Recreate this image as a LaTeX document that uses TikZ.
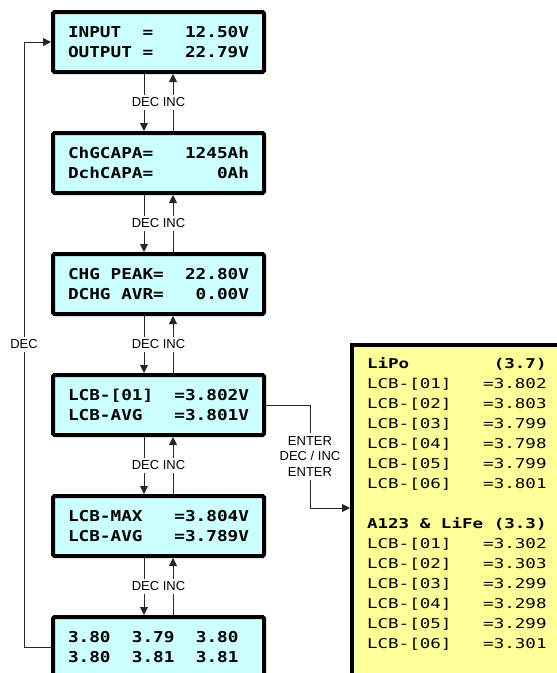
\documentclass[tikz,border=0pt]{standalone}
\usepackage{fontspec}
\usepackage{tikz}
\usetikzlibrary{arrows.meta}
\newfontfamily\lcdfont[FakeStretch=1.18]{DejaVu Sans Mono}
\newfontfamily\listfont[FakeStretch=1.3]{DejaVu Sans Mono}
\newfontfamily\keyfont{Liberation Sans}
\definecolor{lcdcyan}{RGB}{204,255,255}
\definecolor{lcdyellow}{RGB}{255,255,153}
\newcommand{\lcdrow}[2]{\makebox[181pt][l]{#1\hfill #2}}

\begin{document}
\begin{tikzpicture}[node distance={121pt},
        lcd/.style = {draw, line width=4pt, rounded corners=1.5pt, fill=lcdcyan, minimum width=211pt, minimum height=60pt, align=left, font=\lcdfont\bfseries\fontsize{15}{20}\selectfont},
        list/.style = {draw, line width=4pt, fill=lcdyellow, anchor=north west, inner xsep=15pt, inner ysep=13pt, font=\listfont\fontsize{13.5}{20}\selectfont},
        key/.style = {fill=white, inner xsep=1pt, inner ysep=3pt, font=\keyfont\fontsize{13}{15.5}\selectfont},
        wire/.style = {draw=black!85, line width=0.9pt, -{Triangle[length=8pt,width=8pt]}}]
            \useasboundingbox (0,0) rectangle (557pt,-673pt);

            \node[lcd] (inout) at (158.5pt,-42pt) {\lcdrow{INPUT~~=}{12.50V}\\\lcdrow{OUTPUT~=}{22.79V}};
            \node[lcd] (capa) [below of=inout] {\lcdrow{ChGCAPA=}{1245Ah}\\\lcdrow{DchCAPA=}{0Ah}};
            \node[lcd] (peak) [below of=capa] {\lcdrow{CHG PEAK=}{22.80V}\\\lcdrow{DCHG AVR=}{0.00V}};
            \node[lcd] (cell) [below of=peak] {\lcdrow{LCB-[01]}{=3.802V}\\\lcdrow{LCB-AVG}{=3.801V}};
            \node[lcd] (cmax) [below of=cell] {\lcdrow{LCB-MAX}{=3.804V}\\\lcdrow{LCB-AVG}{=3.789V}};
            \node[lcd] (grid) [below of=cmax] {\lcdrow{3.80~~3.79~~3.80}{}\\\lcdrow{3.80~~3.81~~3.81}{}};

            \node[list] (lipo) at (350pt,-343pt) {\parbox[c][350pt][t]{200pt}{%
                \textbf{LiPo~~~~~~~~(3.7)}\\
                LCB-[01]~~~=3.802\\
                LCB-[02]~~~=3.803\\
                LCB-[03]~~~=3.799\\
                LCB-[04]~~~=3.798\\
                LCB-[05]~~~=3.799\\
                LCB-[06]~~~=3.801\\[20pt]
                \textbf{A123 \& LiFe (3.3)}\\
                LCB-[01]~~~=3.302\\
                LCB-[02]~~~=3.303\\
                LCB-[03]~~~=3.299\\
                LCB-[04]~~~=3.298\\
                LCB-[05]~~~=3.299\\
                LCB-[06]~~~=3.301}};

            % DEC goes down, INC goes up
            \draw[wire] ([xshift=-14.5pt]inout.south) -- ([xshift=-14.5pt]capa.north);
            \draw[wire] ([xshift=14.5pt]capa.north) -- ([xshift=14.5pt]inout.south);
            \draw[wire] ([xshift=-14.5pt]capa.south) -- ([xshift=-14.5pt]peak.north);
            \draw[wire] ([xshift=14.5pt]peak.north) -- ([xshift=14.5pt]capa.south);
            \draw[wire] ([xshift=-14.5pt]peak.south) -- ([xshift=-14.5pt]cell.north);
            \draw[wire] ([xshift=14.5pt]cell.north) -- ([xshift=14.5pt]peak.south);
            \draw[wire] ([xshift=-14.5pt]cell.south) -- ([xshift=-14.5pt]cmax.north);
            \draw[wire] ([xshift=14.5pt]cmax.north) -- ([xshift=14.5pt]cell.south);
            \draw[wire] ([xshift=-14.5pt]cmax.south) -- ([xshift=-14.5pt]grid.north);
            \draw[wire] ([xshift=14.5pt]grid.north) -- ([xshift=14.5pt]cmax.south);

            \node[key, node distance=60.5pt, below of=inout] (k1) {DEC INC};
            \node[key, node distance=60.5pt, below of=capa] (k2) {DEC INC};
            \node[key, node distance=60.5pt, below of=peak] (k3) {DEC INC};
            \node[key, node distance=60.5pt, below of=cell] (k4) {DEC INC};
            \node[key, node distance=60.5pt, below of=cmax] (k5) {DEC INC};

            \draw[wire] (grid.west) -- ++(-27pt,0) |- node[key, pos=0.25] (kl) {DEC} (inout.west);
            \draw[wire] (cell.east) -- ++(44pt,0) |- node[key, pos=0.25, align=center, inner ysep=4pt] (kr) {ENTER\\DEC / INC\\ENTER} ([yshift=-165pt]lipo.north west);
        \end{tikzpicture}
\end{document}
